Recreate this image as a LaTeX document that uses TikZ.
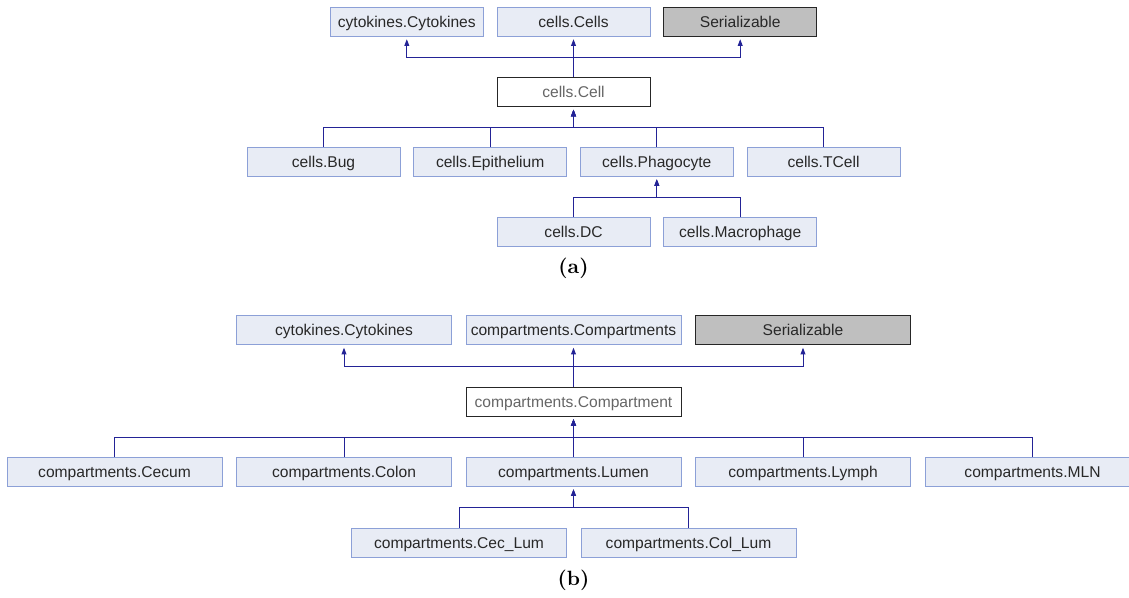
\documentclass[tikz,border=0pt]{standalone}
\usepackage{fontspec}
\newfontfamily\dotfont{Liberation Sans}
\newfontfamily\capfont{lmroman10-bold.otf}
\usepackage{xcolor}
\definecolor{classfill}{RGB}{232,236,245}
\definecolor{classline}{RGB}{140,160,215}
\definecolor{edgeblue}{RGB}{35,35,150}
\definecolor{ifacefill}{RGB}{191,191,191}
\definecolor{textgray}{RGB}{40,40,40}
\usepackage{tikz}
\usetikzlibrary{arrows.meta,positioning}

\begin{document}
\begin{tikzpicture}[x=0.75pt,y=-0.75pt,
    cls/.style={draw=classline,fill=classfill,line width=0.75pt,minimum height=21.75pt,
        inner sep=0pt,text height=8.4pt,text depth=0pt,text=textgray,
        font=\dotfont\fontsize{11.7}{13}\selectfont},
    clsa/.style={cls,minimum width=114.75pt},
    clsb/.style={cls,minimum width=161.25pt},
    ext/.style={draw=black!85,fill=ifacefill},
    self/.style={draw=black!85,fill=white,text=black!60},
    edge/.style={draw=edgeblue,line width=0.75pt,-{Triangle[width=3.6pt,length=5pt]},shorten >=2pt},
    caption/.style={font=\capfont\fontsize{15.5}{17}\selectfont,text=black}]
    \useasboundingbox (0,0) rectangle (1129,597);

    % (a) cells
    \node[clsa] (cytoA) at (406.8,21.5) {cytokines.Cytokines};
    \node[clsa] (cellsA) at (573.5,21.5) {cells.Cells};
    \node[clsa,ext] (serA) at (740.2,21.5) {Serializable};
    \node[clsa,self] (cell) at (573.5,92) {cells.Cell};
    \node[clsa] (bug) at (323.5,161.5) {cells.Bug};
    \node[clsa] (epi) at (490.2,161.5) {cells.Epithelium};
    \node[clsa] (phago) at (656.8,161.5) {cells.Phagocyte};
    \node[clsa] (tcell) at (823.5,161.5) {cells.TCell};
    \node[clsa] (dc) at (573.5,232) {cells.DC};
    \node[clsa] (macro) at (740.2,232) {cells.Macrophage};
    \node[caption] (capA) at (573.5,268) {(a)};

    \coordinate (busA1) at (0,57);
    \coordinate (busA2) at (0,127);
    \coordinate (busA3) at (0,197);
    \draw[edge] (cell.north) -- (cellsA.south);
    \draw[edge] (cell.north) -- (cell.north |- busA1) -| (cytoA.south);
    \draw[edge] (cell.north) -- (cell.north |- busA1) -| (serA.south);
    \foreach \c in {bug,epi,phago,tcell}
        \draw[edge] (\c.north) |- (cell.south |- busA2) -- (cell.south);
    \foreach \c in {dc,macro}
        \draw[edge] (\c.north) |- (phago.south |- busA3) -- (phago.south);

    % (b) compartments
    \node[clsb] (cytoB) at (344,330) {cytokines.Cytokines};
    \node[clsb] (comps) at (573.5,330) {compartments.Compartments};
    \node[clsb,ext] (serB) at (803,330) {Serializable};
    \node[clsb,self] (comp) at (573.5,401.5) {compartments.Compartment};
    \node[clsb] (cecum) at (114.5,471.5) {compartments.Cecum};
    \node[clsb] (colon) at (344,471.5) {compartments.Colon};
    \node[clsb] (lumen) at (573.5,471.5) {compartments.Lumen};
    \node[clsb] (lymph) at (803,471.5) {compartments.Lymph};
    \node[clsb] (mln) at (1032.5,471.5) {compartments.MLN};
    \node[clsb] (ceclum) at (459,542.5) {compartments.Cec\_Lum};
    \node[clsb] (collum) at (688.5,542.5) {compartments.Col\_Lum};
    \node[caption] (capB) at (573.5,580) {(b)};

    \coordinate (busB1) at (0,366);
    \coordinate (busB2) at (0,437);
    \coordinate (busB3) at (0,507);
    \draw[edge] (comp.north) -- (comps.south);
    \draw[edge] (comp.north) -- (comp.north |- busB1) -| (cytoB.south);
    \draw[edge] (comp.north) -- (comp.north |- busB1) -| (serB.south);
    \foreach \c in {cecum,colon,lumen,lymph,mln}
        \draw[edge] (\c.north) |- (comp.south |- busB2) -- (comp.south);
    \foreach \c in {ceclum,collum}
        \draw[edge] (\c.north) |- (lumen.south |- busB3) -- (lumen.south);
\end{tikzpicture}
\end{document}
